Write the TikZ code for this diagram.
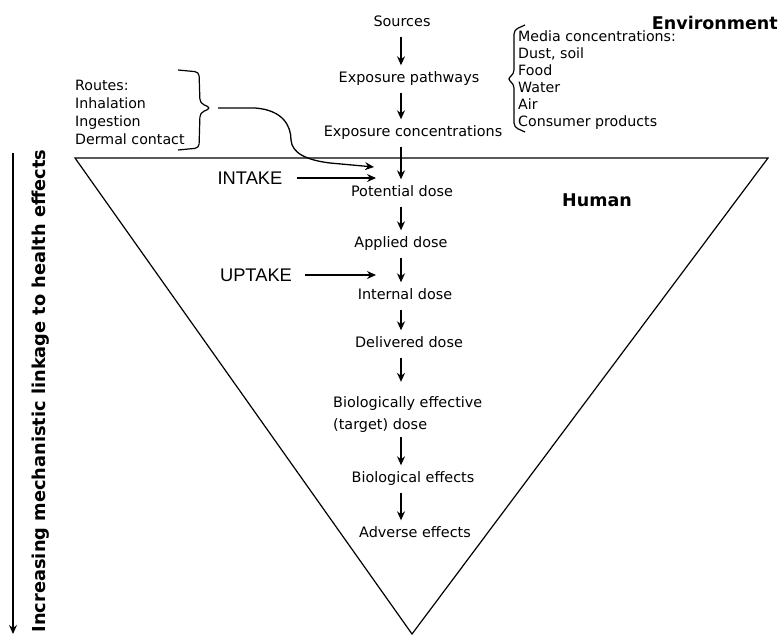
\documentclass[tikz,border=0pt]{standalone}
\usepackage{fontspec}
\setmainfont{DejaVu Sans}
\newfontfamily\arialfont{Liberation Sans}
\usetikzlibrary{arrows.meta}

\begin{document}
\begin{tikzpicture}[x=1pt,y=-1pt,
    stepnode/.style={font=\fontsize{14.4}{16}\selectfont, inner xsep=1pt, inner ysep=7pt, text height=10pt, text depth=3pt},
    listnode/.style={font=\fontsize{14.2}{17}\selectfont, align=left, inner sep=0pt, anchor=north west},
    bignode/.style={font=\bfseries\fontsize{17.5}{20}\selectfont, inner sep=0pt},
    capnode/.style={font=\arialfont\fontsize{18.3}{20}\selectfont, inner sep=0pt},
    arr/.style={-{Stealth[length=9pt,width=8pt]}, line width=1.3pt},
    brc/.style={line width=1.2pt, rounded corners=4pt}
    ]
    \useasboundingbox (0,0) rectangle (778,635);

    % inverted triangle
    \coordinate (tl) at (75,158);
    \coordinate (tr) at (768,158);
    \coordinate (apex) at (412,634);
    \draw [line width=1.2pt] (tl) -- (tr) -- (apex) -- cycle;

    \coordinate (col) at (401,0);

    \node [stepnode] (src) at (402,23) {Sources};
    \node [stepnode] (path) at (409,79) {Exposure pathways};
    \node [stepnode] (conc) at (413,133) {Exposure concentrations};
    \node [stepnode] (pot) at (402,193) {Potential dose};
    \node [stepnode] (appl) at (401,244) {Applied dose};
    \node [stepnode] (intern) at (405,296) {Internal dose};
    \node [stepnode] (deliv) at (409,344) {Delivered dose};
    \node [font=\fontsize{14.4}{22}\selectfont, align=left, inner xsep=1pt, inner ysep=4pt, anchor=west] (bioeff) at (332,415) {Biologically effective\\(target) dose};
    \node [stepnode] (bioeffects) at (413,479) {Biological effects};
    \node [stepnode] (adverse) at (415,534) {Adverse effects};

    \draw [arr] (src.south -| col) -- (path.north -| col);
    \draw [arr] (path.south -| col) -- (conc.north -| col);
    \draw [arr] (conc.south -| col) -- (pot.north -| col);
    \draw [arr] (pot.south -| col) -- (appl.north -| col);
    \draw [arr] (appl.south -| col) -- (intern.north -| col);
    \draw [arr] (intern.south -| col) -- (deliv.north -| col);
    \draw [arr, shorten >=11pt] (deliv.south -| col) -- (bioeff.north -| col);
    \draw [arr] (bioeff.south -| col) -- (bioeffects.north -| col);
    \draw [arr] (bioeffects.south -| col) -- (adverse.north -| col);

    \node [bignode, anchor=east] (env) at (778,23) {Environment};
    \node [bignode] (human) at (597,200) {Human};

    % media list with left brace
    \node [listnode] (media) at (518,31) {Media concentrations:\\Dust, soil\\Food\\Water\\Air\\Consumer products};
    \draw [brc] (525,25) -- (514,30) -- (514,74) -- (507,79) -- (514,84) -- (514,127) -- (525,132);

    % routes list with right brace
    \node [listnode] (routes) at (75,80) {Routes:\\[1pt]Inhalation\\[1pt]Ingestion\\[1pt]Dermal contact};
    \draw [brc] (178,70) -- (199,72) -- (200,103) -- (211,108) -- (200,113) -- (199,148) -- (178,150);

    \coordinate (rtip) at (218,108);
    \coordinate (rend) at (374,167);
    \draw [arr] (rtip) -- (255,108) .. controls (283,110) and (291,126) .. (291,140)
        .. controls (292,153) and (306,160) .. (330,163) -- (rend);

    \node [capnode] (intake) at (250,178) {INTAKE};
    \coordinate (intakeend) at (376,178);
    \draw [arr] ([xshift=14pt]intake.east) -- (intakeend);

    \node [capnode] (uptake) at (256,275) {UPTAKE};
    \coordinate (uptakeend) at (376,275);
    \draw [arr] ([xshift=13pt]uptake.east) -- (uptakeend);

    % left axis
    \coordinate (axtop) at (13,153);
    \coordinate (axbot) at (13,634);
    \draw [arr] (axtop) -- (axbot);
    \node [font=\bfseries\fontsize{17.8}{20}\selectfont, rotate=90, inner sep=0pt] (axlabel) at (41,391) {Increasing mechanistic linkage to health effects};
\end{tikzpicture}
\end{document}
